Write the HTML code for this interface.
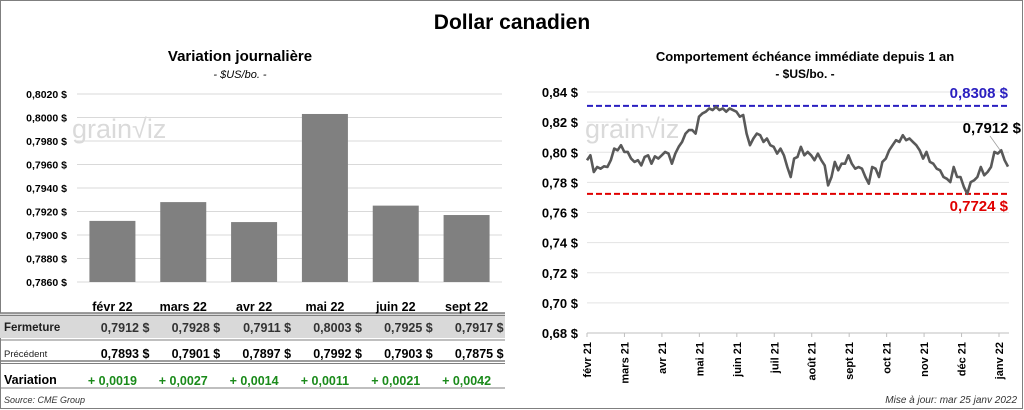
<!DOCTYPE html>
<html><head><meta charset="utf-8"><style>
body{margin:0;background:#fff;}
svg{display:block;font-family:"Liberation Sans",sans-serif;}
</style></head><body>
<svg id="s" width="1024" height="410" viewBox="0 0 1024 410">
<rect x="0.5" y="0.5" width="1022" height="408" fill="#fff" stroke="#7f7f7f"/>
<text x="512" y="29" text-anchor="middle" font-size="21" font-weight="bold">Dollar canadien</text>
<text x="240" y="61" text-anchor="middle" font-size="15" font-weight="bold">Variation  journalière</text>
<text x="240" y="78" text-anchor="middle" font-size="11" font-style="italic">- $US/bo. -</text>
<text x="805" y="61" text-anchor="middle" font-size="13" font-weight="bold">Comportement échéance immédiate depuis 1 an</text>
<text x="805" y="78" text-anchor="middle" font-size="12" font-weight="bold">- $US/bo. -</text>
<g id="left"></g>
<g id="table"></g>
<g id="right"></g>
<text x="4" y="403" font-size="9" font-style="italic" fill="#333">Source: CME Group</text>
<text x="1017" y="403" text-anchor="end" font-size="10" font-style="italic" fill="#333">Mise à jour: mar 25 janv 2022</text>
</svg>
<script>
const months=["févr 22","mars 22","avr 22","mai 22","juin 22","sept 22"];
const closes=[0.7912,0.7928,0.7911,0.8003,0.7925,0.7917];
const prevs=[0.7893,0.7901,0.7897,0.7992,0.7903,0.7875];
const variations=["+ 0,0019","+ 0,0027","+ 0,0014","+ 0,0011","+ 0,0021","+ 0,0042"];
const barTicks=[0.786,0.788,0.790,0.792,0.794,0.796,0.798,0.800,0.802];
const lineTicks=[0.68,0.70,0.72,0.74,0.76,0.78,0.80,0.82,0.84];
const lineMonths=["févr 21","mars 21","avr 21","mai 21","juin 21","juil 21","août 21","sept 21","oct 21","nov 21","déc 21","janv 22"];
const highVal=0.8308, lowVal=0.7724, lastVal=0.7912;
const series=[0.7947,0.7980,0.7869,0.7902,0.7891,0.7907,0.7902,0.7947,0.8024,0.8013,0.8047,0.8002,0.8002,0.7958,0.7936,0.7947,0.7913,0.7969,0.7980,0.7924,0.7973,0.7958,0.7980,0.8002,0.7991,0.7924,0.7991,0.8036,0.8069,0.8124,0.8147,0.8147,0.8124,0.8236,0.8258,0.8269,0.8291,0.8280,0.8302,0.8280,0.8291,0.8269,0.8291,0.8280,0.8269,0.8236,0.8247,0.8124,0.8047,0.8091,0.8124,0.8113,0.8069,0.8091,0.8047,0.8036,0.7991,0.8024,0.7980,0.7902,0.7836,0.7958,0.7969,0.8036,0.7980,0.8002,0.7980,0.7947,0.7991,0.7947,0.7913,0.7780,0.7836,0.7936,0.7880,0.7924,0.7924,0.7980,0.7924,0.7891,0.7902,0.7891,0.7836,0.7791,0.7902,0.7891,0.7836,0.7936,0.7958,0.8013,0.8047,0.8080,0.8069,0.8113,0.8080,0.8091,0.8069,0.8047,0.8013,0.7958,0.8002,0.7936,0.7924,0.7891,0.7880,0.7836,0.7824,0.7802,0.7902,0.7836,0.7836,0.7769,0.7724,0.7802,0.7813,0.7836,0.7902,0.7847,0.7869,0.7902,0.8002,0.7991,0.8013,0.7947,0.7905];

const NS="http://www.w3.org/2000/svg";
function mk(p,tag,a,t){const e=document.createElementNS(NS,tag);for(const k in a)e.setAttribute(k,a[k]);if(t!==undefined)e.textContent=t;p.appendChild(e);return e;}
const fmt4=v=>v.toFixed(4).replace('.',',');
const fmt2=v=>v.toFixed(2).replace('.',',');

// LEFT BAR CHART
const L=document.getElementById('left');
const lx0=77,lx1=502,ly=v=>282-(v-0.786)/0.016*188;
const band=(lx1-lx0)/months.length;
barTicks.forEach(t=>{
 const g=mk(L,'line',{x1:lx0,x2:lx1,y1:ly(t),y2:ly(t),stroke:'#d9d9d9'});
 
 
 const tx=mk(L,'text',{x:67,y:ly(t)+4,'text-anchor':'end','font-size':10.5,'font-weight':'bold'},fmt4(t)+' $');
 
 
});
const wm1=mk(L,'text',{x:72,y:138,'font-size':27,fill:'#dadada'},'grain\u221Aiz');


closes.forEach((v,i)=>{
 const cx=lx0+band*(i+0.5);
 const r=mk(L,'rect',{x:cx-23,y:ly(v),width:46,height:282-ly(v),fill:'#808080'});
 
 
});

// TABLE
const T=document.getElementById('table');
mk(T,'rect',{x:0,y:313,width:505,height:25,fill:'#d9d9d9'});
[[313,1.5],[315.5,1],[340,1],[361,1.5],[363.5,1],[388,1]].forEach(([y,w])=>mk(T,'line',{x1:0,x2:505,y1:y,y2:y,stroke:'#7f7f7f','stroke-width':w}));
const rl=[["Fermeture",331,11.5,'bold','#1f1f1f'],["Précédent",357,9.5,'normal','#222'],["Variation",384,12.5,'bold','#000']];
rl.forEach(r=>{const e=mk(T,'text',{x:4,y:r[1],'font-size':r[2],'font-weight':r[3],fill:r[4]},r[0]);
 
 });
months.forEach((m,i)=>{
 const cx=lx0+band*(i+0.5);
 const h=mk(T,'text',{x:cx,y:311,'text-anchor':'middle','font-size':12.5,'font-weight':'bold'},m);
 
 
 const c=mk(T,'text',{x:cx+37,y:332,'text-anchor':'end','font-size':12.5,'font-weight':'bold',fill:'#333','xml:space':'preserve'},fmt4(closes[i])+'  $');
 
 
 const p=mk(T,'text',{x:cx+37,y:358,'text-anchor':'end','font-size':12.5,'font-weight':'bold','xml:space':'preserve'},fmt4(prevs[i])+'  $');
 
 
 const vv=mk(T,'text',{x:cx,y:385,'text-anchor':'middle','font-size':12.5,'font-weight':'bold',fill:'#1a8a1a'},variations[i]);
 
 
});

// RIGHT LINE CHART
const R=document.getElementById('right');
const rx0=587,rx1=1009,xl0=587,xl1=999;
const ry=v=>333-(v-0.68)/0.16*241;
lineTicks.forEach(t=>{
 const g=mk(R,'line',{x1:rx0,x2:rx1,y1:ry(t),y2:ry(t),stroke:t===0.68?'#bfbfbf':'#e3e3e3'});
 
 
 const tx=mk(R,'text',{x:578,y:ry(t)+5,'text-anchor':'end','font-size':13,'font-weight':'bold'},fmt2(t)+' $');
 
 
});
lineMonths.forEach((m,i)=>{
 const x=xl0+(xl1-xl0)*i/(lineMonths.length-1);
 mk(R,'line',{x1:x,x2:x,y1:333,y2:337,stroke:'#bfbfbf'});
 const tx=mk(R,'text',{x:0,y:0,'text-anchor':'end','font-size':11,'font-weight':'bold',transform:`translate(${x+4},342) rotate(-90)`},m);
 
 
});
const wm2=mk(R,'text',{x:585,y:138,'font-size':27,fill:'#dadada'},'grain\u221Aiz');


const hl=mk(R,'line',{x1:rx0,x2:rx1,y1:ry(highVal),y2:ry(highVal),stroke:'#2a1fc0','stroke-width':2,'stroke-dasharray':'6 3'});


const ll=mk(R,'line',{x1:rx0,x2:rx1,y1:ry(lowVal),y2:ry(lowVal),stroke:'#e00000','stroke-width':2,'stroke-dasharray':'6 3'});


const n=series.length;
const sx=i=>rx0+(rx1-1-rx0)*i/(n-1);
const pl=mk(R,'polyline',{points:series.map((v,i)=>sx(i).toFixed(1)+','+ry(v).toFixed(1)).join(' '),fill:'none',stroke:'#595959','stroke-width':2.6,'stroke-linejoin':'round'});


const hlab=mk(R,'text',{x:1008,y:ry(highVal)-8,'text-anchor':'end','font-size':15,'font-weight':'bold',fill:'#2a1fc0'},fmt4(highVal)+' $');


const llab=mk(R,'text',{x:1008,y:ry(lowVal)+17,'text-anchor':'end','font-size':15,'font-weight':'bold',fill:'#e00000'},fmt4(lowVal)+' $');


mk(R,'line',{x1:990,y1:136,x2:1000,y2:150,stroke:'#a0a0a0','stroke-width':0.8});
const lastLab=mk(R,'text',{x:1021,y:133,'text-anchor':'end','font-size':15,'font-weight':'bold'},fmt4(lastVal)+' $');


</script>
</body></html>
